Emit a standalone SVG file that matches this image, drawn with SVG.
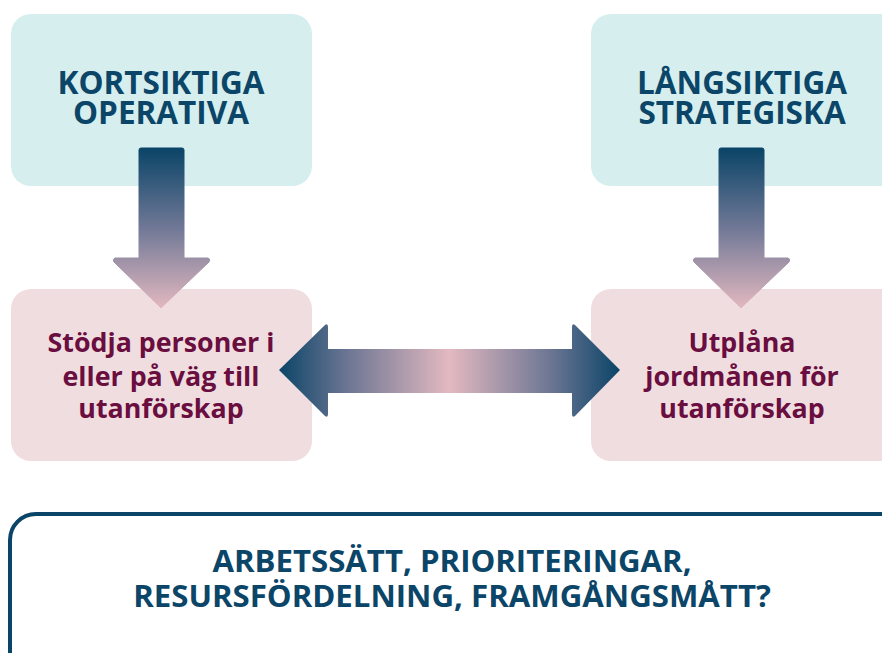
<svg xmlns="http://www.w3.org/2000/svg" width="882" height="653" viewBox="0 0 882 653">
<defs>
<linearGradient id="gv" x1="0" y1="0" x2="0" y2="1">
<stop offset="0" stop-color="#0a4467"/>
<stop offset="0.5" stop-color="#707896"/>
<stop offset="1" stop-color="#e2b8c0"/>
</linearGradient>
<linearGradient id="gh" x1="278" y1="0" x2="620" y2="0" gradientUnits="userSpaceOnUse">
<stop offset="0" stop-color="#0a4467"/>
<stop offset="0.2" stop-color="#6b7593"/>
<stop offset="0.5" stop-color="#e3b9c0"/>
<stop offset="0.8" stop-color="#6b7593"/>
<stop offset="1" stop-color="#0a4467"/>
</linearGradient>
<style>
.top{fill:#d6eeee}
.pink{fill:#f0dde0}
.t1{font-family:"Open Sans","Noto Sans",sans-serif;font-weight:bold;font-size:31.5px;fill:#0b4568;text-anchor:middle}
.t2{font-family:"Open Sans","Noto Sans",sans-serif;font-weight:bold;font-size:26.8px;fill:#6a0d3f;text-anchor:middle}
.t3{font-family:"Open Sans","Noto Sans",sans-serif;font-weight:bold;font-size:31.2px;fill:#0b4568;text-anchor:middle}
</style>
</defs>
<g id="kortsiktiga">
<rect class="top" x="11" y="14" width="301" height="172" rx="20"/>
<text class="t1" x="161" y="94">KORTSIKTIGA</text>
<text class="t1" x="161" y="124">OPERATIVA</text>
</g>
<g id="langsiktiga">
<rect class="top" x="591" y="14" width="310" height="172" rx="20"/>
<text class="t1" x="742" y="94">LÅNGSIKTIGA</text>
<text class="t1" x="742" y="124">STRATEGISKA</text>
</g>
<g id="stodja">
<rect class="pink" x="11" y="289" width="301" height="172" rx="20"/>
<text class="t2" x="161" y="352">Stödja personer i</text>
<text class="t2" x="161" y="386">eller på väg till</text>
<text class="t2" x="161" y="418">utanförskap</text>
</g>
<g id="utplana">
<rect class="pink" x="591" y="289" width="310" height="172" rx="20"/>
<text class="t2" x="742" y="352">Utplåna</text>
<text class="t2" x="742" y="386">jordmånen för</text>
<text class="t2" x="742" y="418">utanförskap</text>
</g>
<g id="fraga">
<rect x="10" y="514" width="900" height="180" rx="26" fill="#ffffff" stroke="#0a4467" stroke-width="4"/>
<text class="t3" x="452" y="572">ARBETSSÄTT, PRIORITERINGAR,</text>
<text class="t3" x="452" y="607">RESURSFÖRDELNING, FRAMGÅNGSMÅTT?</text>
</g>
<g id="connectors" stroke-linejoin="round">
<path d="M141,148 H182 Q184,148 184,150 V258 H208 Q211,259 209,262 L161,308 L114,262 Q112,259 115,258 H139 V150 Q139,148 141,148 Z" fill="url(#gv)" stroke="url(#gv)" stroke-width="1"/>
<path d="M721,148 H762 Q764,148 764,150 V258 H788 Q791,259 789,262 L741,308 L694,262 Q692,259 695,258 H719 V150 Q719,148 721,148 Z" fill="url(#gv)" stroke="url(#gv)" stroke-width="1"/>
<path d="M279,370 L325,325 Q328,323 328,327 V349 H572 V327 Q572,323 575,325 L620,370 L575,416 Q572,418 572,414 V393 H328 V414 Q328,418 325,416 Z" fill="url(#gh)"/>
</g>
</svg>
